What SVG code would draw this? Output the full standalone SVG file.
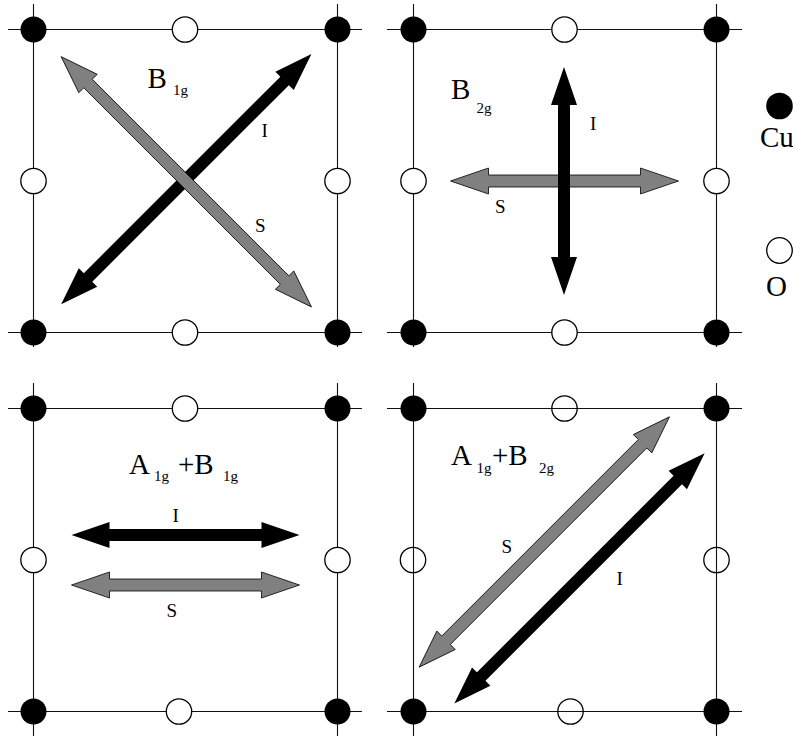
<svg xmlns="http://www.w3.org/2000/svg" xmlns:xlink="http://www.w3.org/1999/xlink" width="793" height="736" viewBox="0 0 793 736">
<style>
.ln{stroke:#111;stroke-width:1.1;fill:none}
.cu{fill:#000}
.o{fill:#fff;stroke:#000;stroke-width:1.3}
.oh{fill:none;stroke:#000;stroke-width:1.3}
.blk{fill:#000}
.gry{fill:#808080;stroke:#000;stroke-width:0.8;stroke-linejoin:miter}
.big{font-family:"Liberation Serif","Times New Roman",serif;font-size:29px;fill:#000}
.sub{font-family:"Liberation Serif","Times New Roman",serif;font-size:15px;fill:#000}
.lab{font-family:"Liberation Serif","Times New Roman",serif;font-size:19px;fill:#000}
</style>
<defs>
<path id="dlong" d="M -177 0 L -139 -13 L -139 -6 L 139 -6 L 139 -13 L 177 0 L 139 13 L 139 6 L -139 6 L -139 13 Z"/>
<path id="dshort" d="M -114 0 L -76 -13 L -76 -6 L 76 -6 L 76 -13 L 114 0 L 76 13 L 76 6 L -76 6 L -76 13 Z"/>
</defs>
<rect width="793" height="736" fill="#fff"/>

<g id="panel-b1g">
<path class="ln" d="M8 29.5H362M8 332.5H362M33.5 4V347M337.5 4V347"/>
<circle class="cu" cx="33.5" cy="29.5" r="13"/>
<circle class="cu" cx="337.5" cy="29.5" r="13"/>
<circle class="cu" cx="33.5" cy="332.5" r="13"/>
<circle class="cu" cx="337.5" cy="332.5" r="13"/>
<circle class="o" cx="185" cy="29.5" r="12.7"/>
<circle class="o" cx="185" cy="332.5" r="12.7"/>
<circle class="o" cx="33.5" cy="181" r="12.7"/>
<circle class="o" cx="337.5" cy="181" r="12.7"/>
<text class="big" x="147.5" y="87.5">B</text><text class="sub" x="173" y="95">1g</text>
<text class="lab" x="261.5" y="136.5">I</text>
<text class="lab" x="255" y="231.5">S</text>
</g>

<g id="panel-b2g">
<path class="ln" d="M387 29.5H742M387 332.5H742M413.5 4V347M716.5 4V347"/>
<circle class="cu" cx="413.5" cy="29.5" r="13"/>
<circle class="cu" cx="716.5" cy="29.5" r="13"/>
<circle class="cu" cx="413.5" cy="332.5" r="13"/>
<circle class="cu" cx="716.5" cy="332.5" r="13"/>
<circle class="o" cx="564.5" cy="29.5" r="12.7"/>
<circle class="o" cx="564.5" cy="332.5" r="12.7"/>
<circle class="o" cx="413.5" cy="181" r="12.7"/>
<circle class="o" cx="716.5" cy="181" r="12.7"/>
<text class="big" x="451" y="99">B</text><text class="sub" x="476.5" y="113">2g</text>
<text class="lab" x="590" y="130">I</text>
<text class="lab" x="495" y="213">S</text>
</g>

<g id="panel-a1g-b1g">
<path class="ln" d="M8 408.5H362M8 711.5H362M33.5 383V736M337.5 383V736"/>
<circle class="cu" cx="33.5" cy="408.5" r="13"/>
<circle class="cu" cx="337.5" cy="408.5" r="13"/>
<circle class="cu" cx="33.5" cy="711.5" r="13"/>
<circle class="cu" cx="337.5" cy="711.5" r="13"/>
<circle class="o" cx="185" cy="408.5" r="12.7"/>
<circle class="o" cx="179" cy="711.5" r="12.7"/>
<circle class="o" cx="33.5" cy="560" r="12.7"/>
<circle class="o" cx="337.5" cy="560" r="12.7"/>
<text class="big" x="129" y="474">A</text><text class="sub" x="154" y="481">1g</text>
<text class="big" x="178" y="474">+B</text><text class="sub" x="223" y="481">1g</text>
<text class="lab" x="172.5" y="521.5">I</text>
<text class="lab" x="166.5" y="616.5">S</text>
</g>

<g id="panel-a1g-b2g">
<path class="ln" d="M387 408.5H742M387 711.5H742M413.5 383V736M716.5 383V736"/>
<circle class="cu" cx="413.5" cy="408.5" r="13"/>
<circle class="cu" cx="716.5" cy="408.5" r="13"/>
<circle class="cu" cx="413.5" cy="711.5" r="13"/>
<circle class="cu" cx="716.5" cy="711.5" r="13"/>
<circle class="oh" cx="564.5" cy="408.5" r="12.7"/>
<circle class="oh" cx="570.5" cy="711.5" r="12.7"/>
<circle class="oh" cx="413" cy="560" r="12.7"/>
<circle class="oh" cx="716.5" cy="560" r="12.7"/>
<text class="big" x="451" y="465">A</text><text class="sub" x="476.5" y="473">1g</text>
<text class="big" x="492" y="465">+B</text><text class="sub" x="539" y="473">2g</text>
<text class="lab" x="501.5" y="553">S</text>
<text class="lab" x="616.5" y="585">I</text>
</g>

<g id="legend">
<circle class="cu" cx="779.5" cy="106" r="13.3"/>
<text class="big" x="760" y="147">Cu</text>
<circle class="o" cx="779.5" cy="250.5" r="12.8"/>
<text class="big" x="766" y="296">O</text>
</g>

<g id="connectors">
<use xlink:href="#dlong" class="blk" transform="translate(186.3 179.2) rotate(-45)"/>
<use xlink:href="#dlong" class="gry" transform="translate(186.3 181.8) rotate(45)"/>
<use xlink:href="#dshort" class="gry" transform="translate(564.5 181)"/>
<use xlink:href="#dshort" class="blk" transform="translate(564 181) rotate(90)"/>
<use xlink:href="#dshort" class="blk" transform="translate(185.5 535)"/>
<use xlink:href="#dshort" class="gry" transform="translate(185.5 585)"/>
<use xlink:href="#dlong" class="gry" transform="translate(544.3 542) rotate(-45)"/>
<use xlink:href="#dlong" class="blk" transform="translate(579.5 578.3) rotate(-45)"/>
</g>
</svg>
